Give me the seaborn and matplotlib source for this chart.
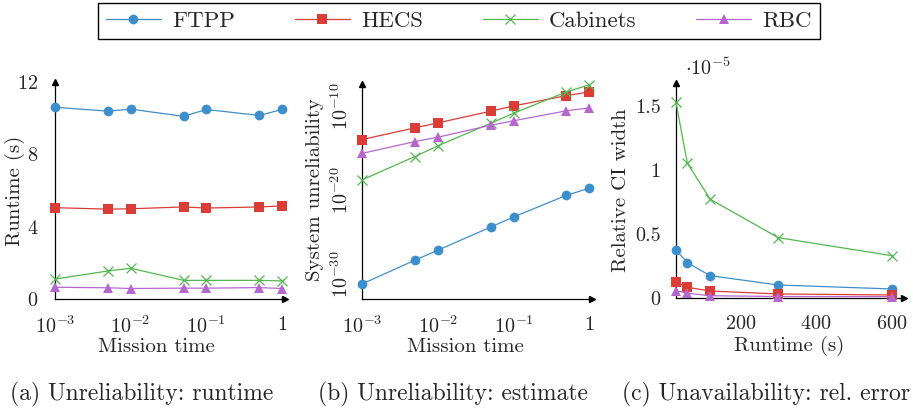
import numpy as np
import pandas as pd
import seaborn as sns
import matplotlib.pyplot as plt
from matplotlib.ticker import FixedLocator, FixedFormatter, NullFormatter

# data
mission_time = [1e-3, 5e-3, 1e-2, 5e-2, 1e-1, 5e-1, 1]
runtime_ftpp = [10.6, 10.39, 10.5, 10.1, 10.48, 10.15, 10.48]
runtime_hecs = [5.05, 4.97, 4.99, 5.09, 5.03, 5.09, 5.15]
runtime_cab = [1.1, 1.55, 1.7, 1.03, 1.03, 1.03, 1.0]
runtime_rbc = [0.65, 0.62, 0.58, 0.6, 0.6, 0.63, 0.58]

# log10 of the unreliability estimate
unrel_ftpp = [-31.2, -28.36, -27.17, -24.4, -23.2, -20.6, -19.76]
unrel_hecs = [-13.94, -12.54, -11.95, -10.55, -9.92, -8.69, -8.24]
unrel_cab = [-18.76, -15.97, -14.7, -11.99, -10.8, -8.24, -7.4]
unrel_rbc = [-15.6, -14.18, -13.66, -12.23, -11.7, -10.5, -10.16]

runtime_s = [30, 60, 120, 300, 600]
relerr_ftpp = [0.376e-5, 0.279e-5, 0.177e-5, 0.104e-5, 0.073e-5]
relerr_hecs = [0.13e-5, 0.086e-5, 0.057e-5, 0.034e-5, 0.026e-5]
relerr_cab = [1.53e-5, 1.056e-5, 0.775e-5, 0.474e-5, 0.333e-5]
relerr_rbc = [0.06e-5, 0.04e-5, 0.02e-5, 0.014e-5, 0.013e-5]

methods = ['FTPP', 'HECS', 'Cabinets', 'RBC']
colors = {'FTPP': '#3d8fcc', 'HECS': '#dc3c36', 'Cabinets': '#52b84e', 'RBC': '#b567cf'}
markers = {'FTPP': 'o', 'HECS': 's', 'Cabinets': 'x', 'RBC': '^'}
msizes = {'FTPP': 7, 'HECS': 6.5, 'Cabinets': 6.5, 'RBC': 7}

sns.set_style('white')
plt.rcParams['font.family'] = ['cmr10', 'DejaVu Serif']
plt.rcParams['mathtext.fontset'] = 'cm'
plt.rcParams['axes.formatter.use_mathtext'] = True

fig = plt.figure(figsize=(9.13, 4.11), dpi=100)
W, H = 913, 411


def make_ax(x0, x1, ytop, ybot):
    return fig.add_axes([x0 / W, 1 - ybot / H, (x1 - x0) / W, (ybot - ytop) / H])


ax_a = make_ax(55, 282, 82, 299)
ax_b = make_ax(362, 589.3, 84, 299)
ax_c = make_ax(676, 901.7, 83.3, 298.3)


def draw(ax, x, series):
    for m, y in zip(methods, series):
        df = pd.DataFrame({'x': x, 'y': y})
        filled = m != 'Cabinets'
        sns.lineplot(data=df, x='x', y='y', ax=ax, color=colors[m], marker=markers[m],
                     markersize=msizes[m], linewidth=0.9, label=m,
                     markeredgewidth=0 if filled else 0.9,
                     markeredgecolor=colors[m], clip_on=False, zorder=3)
    ax.get_legend().remove()


def style_axes(ax):
    for s in ['top', 'right']:
        ax.spines[s].set_visible(False)
    for s in ['left', 'bottom']:
        ax.spines[s].set_color('black')
        ax.spines[s].set_linewidth(0.9)
    ax.plot(1.012, 0, marker='>', color='black', markersize=5, transform=ax.transAxes, clip_on=False)
    ax.plot(0, 1.0, marker='^', color='black', markersize=5, transform=ax.transAxes, clip_on=False)
    ax.plot([1, 1.012], [0, 0], color='black', lw=0.9, transform=ax.transAxes, clip_on=False)
    ax.tick_params(axis='both', which='major', direction='inout', length=12, width=0.8,
                   color='0.55', labelsize=14.5, pad=6)
    ax.tick_params(axis='both', which='minor', direction='inout', length=7, width=0.6, color='0.4')
    ax.set_xlabel('')
    ax.set_ylabel('')


# (a) runtime
draw(ax_a, mission_time, [runtime_ftpp, runtime_hecs, runtime_cab, runtime_rbc])
ax_a.set_xscale('log')
ax_a.set_xlim(1e-3, 1)
ax_a.set_ylim(0, 12)
ax_a.set_yticks([0, 4, 8, 12])
style_axes(ax_a)

# (b) estimate
draw(ax_b, mission_time, [unrel_ftpp, unrel_hecs, unrel_cab, unrel_rbc])
ax_b.set_xscale('log')
ax_b.set_xlim(1e-3, 1)
ax_b.set_ylim(-33, -7.3)
ax_b.yaxis.set_major_locator(FixedLocator([-30, -20, -10]))
ax_b.yaxis.set_major_formatter(FixedFormatter([r'$10^{-30}$', r'$10^{-20}$', r'$10^{-10}$']))
minor_b = [base + 10 * np.log10(k) for base in [-40, -30, -20, -10] for k in range(2, 10)]
minor_b = [v for v in minor_b if -33 <= v <= -7.3]
ax_b.yaxis.set_minor_locator(FixedLocator(minor_b))
style_axes(ax_b)
ax_b.tick_params(axis='y', which='major', pad=1)
for lab in ax_b.get_yticklabels():
    lab.set_rotation(90)
    lab.set_va('center')

for ax in [ax_a, ax_b]:
    ax.xaxis.set_major_locator(FixedLocator([1e-3, 1e-2, 1e-1, 1]))
    ax.xaxis.set_major_formatter(FixedFormatter([r'$10^{-3}$', r'$10^{-2}$', r'$10^{-1}$', r'$1$']))
    ax.xaxis.set_minor_formatter(NullFormatter())

# (c) relative error
scale = 1e-5
draw(ax_c, runtime_s, [np.array(v) / scale for v in [relerr_ftpp, relerr_hecs, relerr_cab, relerr_rbc]])
ax_c.set_xlim(30, 626)
ax_c.set_ylim(0, 1.68)
ax_c.set_xticks([200, 400, 600])
ax_c.set_yticks([0, 0.5, 1, 1.5])
ax_c.set_yticklabels(['0', '0.5', '1', '1.5'])
style_axes(ax_c)
ax_c.tick_params(axis='y', which='major', pad=5)
ax_c.text(0.04, 1.02, r'$\cdot 10^{-5}$', transform=ax_c.transAxes, fontsize=14.5, va='bottom')

# labels
for ax, lab, lx in [(ax_a, 'Mission time', 0.449), (ax_b, 'Mission time', 0.454), (ax_c, 'Runtime (s)', 0.5)]:
    ax.set_xlabel(lab, fontsize=15, va='center')
    ax.xaxis.set_label_coords(lx, -0.222)
for ax, lab, lx, ly in [(ax_a, 'Runtime (s)', -0.176, 0.5), (ax_b, 'System unreliability', -0.205, 0.509),
                        (ax_c, 'Relative CI width', -0.245, 0.504)]:
    ax.set_ylabel(lab, fontsize=15, va='center')
    ax.yaxis.set_label_coords(lx, ly)

# captions
for xc, txt in [(142, '(a) Unreliability: runtime'), (453, '(b) Unreliability: estimate'),
                (766, '(c) Unavailability: rel. error')]:
    fig.text(xc / W, 1 - 394 / H, txt, ha='center', va='center', fontsize=17)

handles, labels = ax_a.get_legend_handles_labels()
fig.legend(handles, labels, loc='upper center', bbox_to_anchor=(459 / W, 1 - 3 / H), ncol=4,
           frameon=True, fancybox=False, edgecolor='black', fontsize=16.5, handlelength=2.4,
           columnspacing=2.6, borderpad=0.35, handletextpad=0.5, framealpha=1, borderaxespad=0)

fig.savefig('out.png', dpi=100)
